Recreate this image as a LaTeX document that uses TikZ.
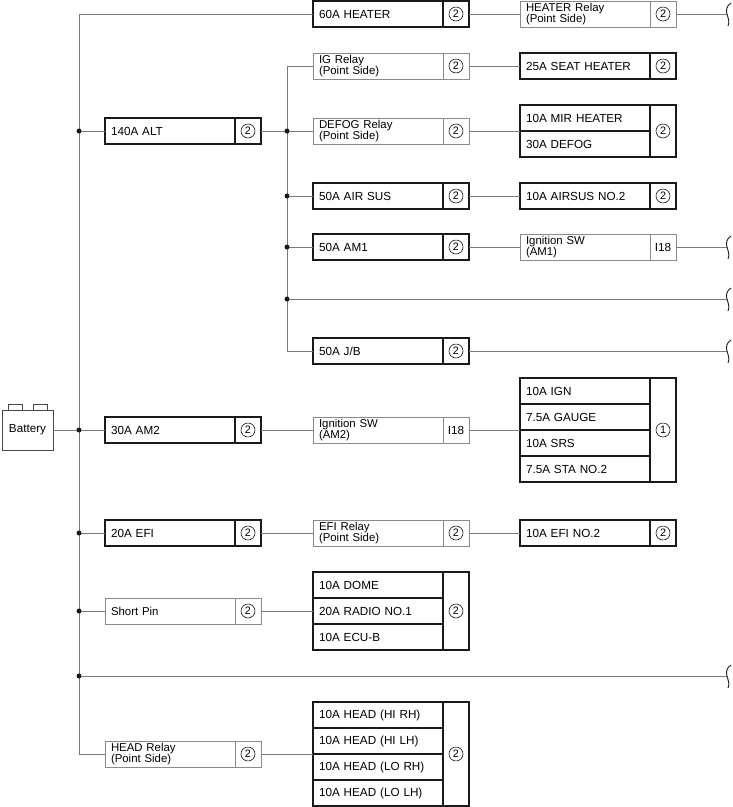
\documentclass[tikz,border=0pt]{standalone}
\usepackage{fontspec}
\setmainfont{Liberation Sans}
\usetikzlibrary{positioning}
\definecolor{wire}{HTML}{7A7A7A}
\definecolor{frame}{HTML}{8A8A8A}
\definecolor{ink}{HTML}{1A1A1A}
\tikzset{
  wireln/.style={draw=wire, line width=0.9pt},
  fuse/.style={rectangle, draw=ink, line width=1.3pt, outer sep=0pt, minimum height=26pt, minimum width=130pt, text width=118pt, inner xsep=6pt, inner ysep=0pt, align=left, font=\fontsize{11.7}{12}\selectfont},
  relay/.style={fuse, draw=frame, line width=0.9pt, font=\fontsize{11.4}{10.8}\selectfont},
  fusetag/.style={rectangle, draw=ink, line width=1.3pt, outer sep=0pt, minimum height=26pt, minimum width=26pt, inner sep=0pt, font=\fontsize{10.8}{10.8}\selectfont, path picture={\draw[ink, line width=0.6pt] (path picture bounding box.center) circle (7pt);}},
  relaytag/.style={fusetag, draw=frame, line width=0.9pt},
  plaintag/.style={rectangle, draw=frame, line width=0.9pt, outer sep=0pt, minimum height=26pt, minimum width=26pt, inner sep=0pt, font=\fontsize{11.7}{12}\selectfont},
  jdot/.style={circle, fill=ink, inner sep=0pt, minimum size=5pt},
  cell/.style={draw=ink!80, line width=0.8pt},
  brk/.pic={\draw[draw=ink, line width=0.9pt] (4,-11) .. controls (-1,-8) and (-1,-3) .. (0,0) .. controls (1,4) and (3,8) .. (1,12);},
}
\begin{document}
\begin{tikzpicture}[x=1pt, y=-1pt]
  \useasboundingbox (0,0) rectangle (732,807);
  \coordinate (bus) at (79,0);
  \coordinate (bus2) at (287,0);
  \coordinate (brkheater) at (727,14);
  \coordinate (brkam1) at (727,247);
  \coordinate (brklong1) at (727,299);
  \coordinate (brkjb) at (727,351);
  \coordinate (brklong2) at (727,676);

  % battery
  \node[draw=ink!80, line width=0.8pt, outer sep=0pt, minimum width=51pt, minimum height=40pt, font=\fontsize{11.7}{12}\selectfont] (battery) at (27.5,430) {Battery};
  \draw[cell] ([xshift=6pt]battery.north west) rectangle ++(14,-6);
  \draw[cell] ([xshift=31pt]battery.north west) rectangle ++(14,-6);

  % first column
  \node[fuse, anchor=west] (alt140) at (105,131) {140A ALT};
  \node[fusetag, right=0pt of alt140] (alt140n) {2};
  \node[fuse, anchor=west] (am230) at (105,430) {30A AM2};
  \node[fusetag, right=0pt of am230] (am230n) {2};
  \node[fuse, anchor=west] (efi20) at (105,533) {20A EFI};
  \node[fusetag, right=0pt of efi20] (efi20n) {2};
  \node[relay, anchor=west] (shortpin) at (105,611) {Short Pin};
  \node[relaytag, right=0pt of shortpin] (shortpinn) {2};
  \node[relay, anchor=west] (headrly) at (105,754) {HEAD Relay\\(Point Side)};
  \node[relaytag, right=0pt of headrly] (headrlyn) {2};

  % second column
  \node[fuse, anchor=west] (heater60) at (313,14) {60A HEATER};
  \node[fusetag, right=0pt of heater60] (heater60n) {2};
  \node[relay, anchor=west] (igrly) at (313,66) {IG Relay\\(Point Side)};
  \node[relaytag, right=0pt of igrly] (igrlyn) {2};
  \node[relay, anchor=west] (defogrly) at (313,131) {DEFOG Relay\\(Point Side)};
  \node[relaytag, right=0pt of defogrly] (defogrlyn) {2};
  \node[fuse, anchor=west] (airsus50) at (313,196) {50A AIR SUS};
  \node[fusetag, right=0pt of airsus50] (airsus50n) {2};
  \node[fuse, anchor=west] (am150) at (313,247) {50A AM1};
  \node[fusetag, right=0pt of am150] (am150n) {2};
  \node[fuse, anchor=west] (jb50) at (313,351) {50A J/B};
  \node[fusetag, right=0pt of jb50] (jb50n) {2};
  \node[relay, anchor=west] (igswam2) at (313,430) {Ignition SW\\(AM2)};
  \node[plaintag, right=0pt of igswam2] (igswam2n) {I18};
  \node[relay, anchor=west] (efirly) at (313,533) {EFI Relay\\(Point Side)};
  \node[relaytag, right=0pt of efirly] (efirlyn) {2};
  \node[fuse, anchor=north west] (dome10) at (313,572) {10A DOME};
  \node[fuse, below=0pt of dome10] (radio20) {20A RADIO NO.1};
  \node[fuse, below=0pt of radio20] (ecub10) {10A ECU-B};
  \node[fusetag, minimum height=78pt, anchor=north west] (domegrpn) at (dome10.north east) {2};
  \node[fuse, anchor=north west] (headhirh) at (313,702) {10A HEAD (HI RH)};
  \node[fuse, below=0pt of headhirh] (headhilh) {10A HEAD (HI LH)};
  \node[fuse, below=0pt of headhilh] (headlorh) {10A HEAD (LO RH)};
  \node[fuse, below=0pt of headlorh] (headlolh) {10A HEAD (LO LH)};
  \node[fusetag, minimum height=104pt, anchor=north west] (headgrpn) at (headhirh.north east) {2};

  % third column
  \node[relay, anchor=west] (heaterrly) at (520,14) {HEATER Relay\\(Point Side)};
  \node[relaytag, right=0pt of heaterrly] (heaterrlyn) {2};
  \node[fuse, anchor=west] (seatheater) at (520,66) {25A SEAT HEATER};
  \node[fusetag, right=0pt of seatheater] (seatheatern) {2};
  \node[fuse, anchor=north west] (mirheater) at (520,105) {10A MIR HEATER};
  \node[fuse, below=0pt of mirheater] (defog30) {30A DEFOG};
  \node[fusetag, minimum height=52pt, anchor=north west] (defoggrpn) at (mirheater.north east) {2};
  \node[fuse, anchor=west] (airsus10) at (520,196) {10A AIRSUS NO.2};
  \node[fusetag, right=0pt of airsus10] (airsus10n) {2};
  \node[relay, anchor=west] (igswam1) at (520,247) {Ignition SW\\(AM1)};
  \node[plaintag, right=0pt of igswam1] (igswam1n) {I18};
  \node[fuse, anchor=north west] (ign10) at (520,378) {10A IGN};
  \node[fuse, below=0pt of ign10] (gauge75) {7.5A GAUGE};
  \node[fuse, below=0pt of gauge75] (srs10) {10A SRS};
  \node[fuse, below=0pt of srs10] (sta75) {7.5A STA NO.2};
  \node[fusetag, minimum height=104pt, anchor=north west] (igngrpn) at (ign10.north east) {1};
  \node[fuse, anchor=west] (efi10) at (520,533) {10A EFI NO.2};
  \node[fusetag, right=0pt of efi10] (efi10n) {2};

  % main bus
  \draw[wireln] (heater60.west) -| (bus |- headrly.west) -- (headrly.west);
  \draw[wireln] (bus |- alt140.west) -- (alt140.west);
  \draw[wireln] (battery.east) -- (am230.west);
  \draw[wireln] (bus |- efi20.west) -- (efi20.west);
  \draw[wireln] (bus |- shortpin.west) -- (shortpin.west);
  \draw[wireln] (bus |- brklong2) -- (brklong2);
  \foreach \n in {alt140,am230,efi20,shortpin}
    \node[jdot] at (bus |- \n.west) {};
  \node[jdot] at (bus |- brklong2) {};

  % second bus
  \draw[wireln] (igrly.west) -| (bus2 |- jb50.west) -- (jb50.west);
  \draw[wireln] (alt140n.east) -- (defogrly.west);
  \draw[wireln] (bus2 |- airsus50.west) -- (airsus50.west);
  \draw[wireln] (bus2 |- am150.west) -- (am150.west);
  \draw[wireln] (bus2 |- brklong1) -- (brklong1);
  \foreach \n in {defogrly,airsus50,am150}
    \node[jdot] at (bus2 |- \n.west) {};
  \node[jdot] at (bus2 |- brklong1) {};

  % onward
  \draw[wireln] (heater60n.east) -- (heaterrly.west);
  \draw[wireln] (heaterrlyn.east) -- (brkheater);
  \draw[wireln] (igrlyn.east) -- (seatheater.west);
  \draw[wireln] (defogrlyn.east) -- (mirheater.south west);
  \draw[wireln] (airsus50n.east) -- (airsus10.west);
  \draw[wireln] (am150n.east) -- (igswam1.west);
  \draw[wireln] (igswam1n.east) -- (brkam1);
  \draw[wireln] (jb50n.east) -- (brkjb);
  \draw[wireln] (am230n.east) -- (igswam2.west);
  \draw[wireln] (igswam2n.east) -- (gauge75.south west);
  \draw[wireln] (efi20n.east) -- (efirly.west);
  \draw[wireln] (efirlyn.east) -- (efi10.west);
  \draw[wireln] (shortpinn.east) -- (radio20.west);
  \draw[wireln] (headrlyn.east) -- (headhilh.south west);

  \foreach \b in {brkheater,brkam1,brklong1,brkjb,brklong2}
    \pic at (\b) {brk};
\end{tikzpicture}
\end{document}
